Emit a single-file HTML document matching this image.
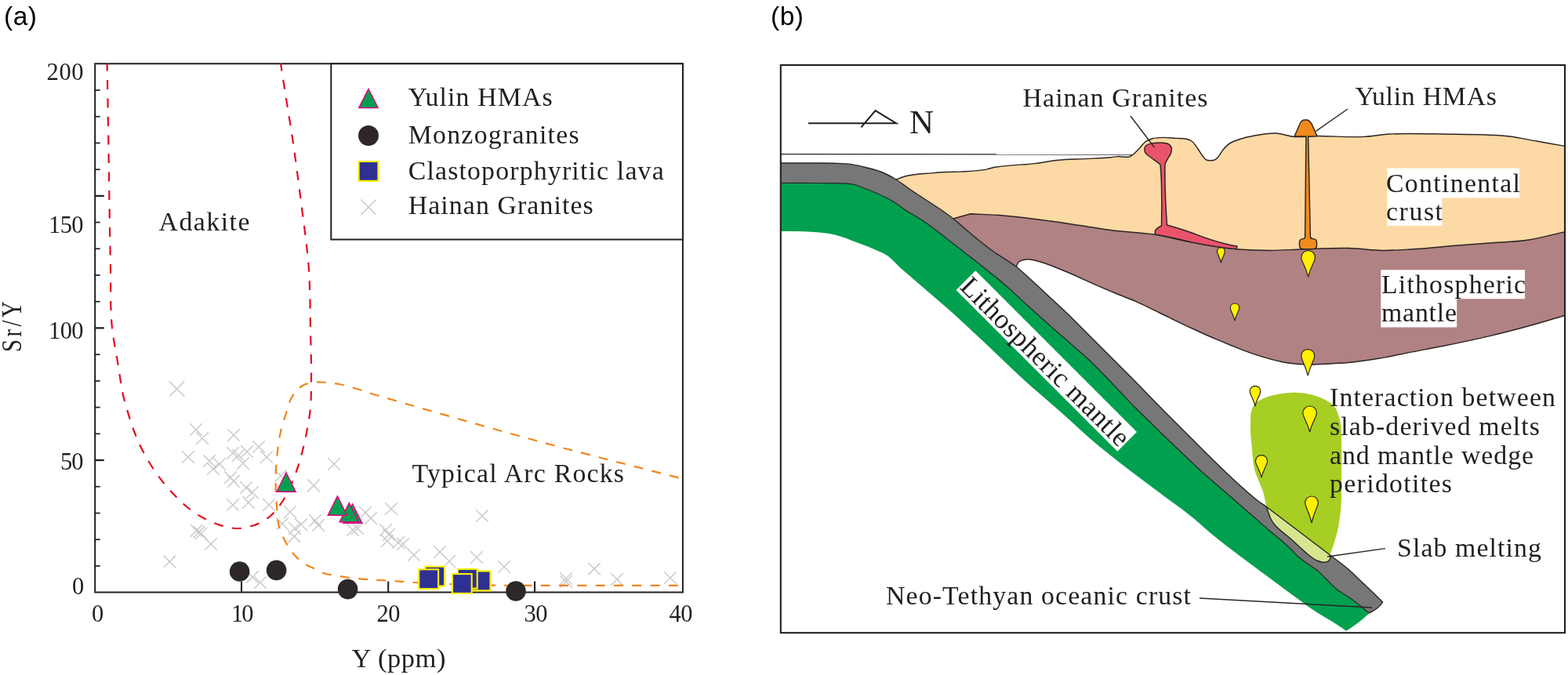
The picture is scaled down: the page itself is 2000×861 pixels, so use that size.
<!DOCTYPE html>
<html lang="en">
<head>
<meta charset="utf-8">
<title>Sr/Y vs Y diagram and tectonic model</title>
<style>
html,body{margin:0;padding:0;background:#fff;}
body{width:2000px;height:861px;overflow:hidden;}
svg{display:block;}
text{white-space:pre;}
</style>
</head>
<body>
<svg width="2000" height="861" viewBox="0 0 2000 861">
<rect x="0" y="0" width="2000" height="861" fill="#ffffff"/>
<g id="panel-a">
<g stroke="#cbcbcb" stroke-width="1.5" fill="none">
<path d="M216.0,486.4 l19.2,19.2 M235.2,486.4 l-19.2,19.2"/>
<path d="M242.2,540.2 l15.6,15.6 M257.8,540.2 l-15.6,15.6"/>
<path d="M250.2,551.2 l15.6,15.6 M265.8,551.2 l-15.6,15.6"/>
<path d="M290.2,547.2 l15.6,15.6 M305.8,547.2 l-15.6,15.6"/>
<path d="M232.2,575.2 l15.6,15.6 M247.8,575.2 l-15.6,15.6"/>
<path d="M322.2,562.2 l15.6,15.6 M337.8,562.2 l-15.6,15.6"/>
<path d="M307.2,568.2 l15.6,15.6 M322.8,568.2 l-15.6,15.6"/>
<path d="M289.2,570.2 l15.6,15.6 M304.8,570.2 l-15.6,15.6"/>
<path d="M296.2,573.2 l15.6,15.6 M311.8,573.2 l-15.6,15.6"/>
<path d="M332.2,575.2 l15.6,15.6 M347.8,575.2 l-15.6,15.6"/>
<path d="M259.2,580.2 l15.6,15.6 M274.8,580.2 l-15.6,15.6"/>
<path d="M272.2,584.2 l15.6,15.6 M287.8,584.2 l-15.6,15.6"/>
<path d="M302.2,583.2 l15.6,15.6 M317.8,583.2 l-15.6,15.6"/>
<path d="M264.2,590.2 l15.6,15.6 M279.8,590.2 l-15.6,15.6"/>
<path d="M286.2,601.2 l15.6,15.6 M301.8,601.2 l-15.6,15.6"/>
<path d="M290.2,606.2 l15.6,15.6 M305.8,606.2 l-15.6,15.6"/>
<path d="M306.2,614.2 l15.6,15.6 M321.8,614.2 l-15.6,15.6"/>
<path d="M314.2,620.2 l15.6,15.6 M329.8,620.2 l-15.6,15.6"/>
<path d="M350.2,599.2 l15.6,15.6 M365.8,599.2 l-15.6,15.6"/>
<path d="M289.2,636.2 l15.6,15.6 M304.8,636.2 l-15.6,15.6"/>
<path d="M309.2,633.2 l15.6,15.6 M324.8,633.2 l-15.6,15.6"/>
<path d="M335.2,636.2 l15.6,15.6 M350.8,636.2 l-15.6,15.6"/>
<path d="M362.2,645.2 l15.6,15.6 M377.8,645.2 l-15.6,15.6"/>
<path d="M242.7,669.0 l15.6,15.6 M258.3,669.0 l-15.6,15.6"/>
<path d="M246.2,670.8 l15.6,15.6 M261.8,670.8 l-15.6,15.6"/>
<path d="M248.7,672.7 l15.6,15.6 M264.3,672.7 l-15.6,15.6"/>
<path d="M376.2,661.2 l15.6,15.6 M391.8,661.2 l-15.6,15.6"/>
<path d="M352.2,660.2 l15.6,15.6 M367.8,660.2 l-15.6,15.6"/>
<path d="M368.2,666.2 l15.6,15.6 M383.8,666.2 l-15.6,15.6"/>
<path d="M208.6,708.6 l15.6,15.6 M224.2,708.6 l-15.6,15.6"/>
<path d="M261.2,686.2 l15.6,15.6 M276.8,686.2 l-15.6,15.6"/>
<path d="M314.2,728.2 l15.6,15.6 M329.8,728.2 l-15.6,15.6"/>
<path d="M324.2,735.2 l15.6,15.6 M339.8,735.2 l-15.6,15.6"/>
<path d="M367.5,676.5 l15.6,15.6 M383.1,676.5 l-15.6,15.6"/>
<path d="M418.2,584.2 l15.6,15.6 M433.8,584.2 l-15.6,15.6"/>
<path d="M392.2,611.5 l15.6,15.6 M407.8,611.5 l-15.6,15.6"/>
<path d="M491.2,641.2 l15.6,15.6 M506.8,641.2 l-15.6,15.6"/>
<path d="M607.2,650.2 l15.6,15.6 M622.8,650.2 l-15.6,15.6"/>
<path d="M458.2,646.2 l15.6,15.6 M473.8,646.2 l-15.6,15.6"/>
<path d="M465.2,653.2 l15.6,15.6 M480.8,653.2 l-15.6,15.6"/>
<path d="M448.2,666.2 l15.6,15.6 M463.8,666.2 l-15.6,15.6"/>
<path d="M442.2,668.2 l15.6,15.6 M457.8,668.2 l-15.6,15.6"/>
<path d="M484.2,668.2 l15.6,15.6 M499.8,668.2 l-15.6,15.6"/>
<path d="M398.2,662.2 l15.6,15.6 M413.8,662.2 l-15.6,15.6"/>
<path d="M394.2,656.2 l15.6,15.6 M409.8,656.2 l-15.6,15.6"/>
<path d="M488.2,674.2 l15.6,15.6 M503.8,674.2 l-15.6,15.6"/>
<path d="M520.2,700.2 l15.6,15.6 M535.8,700.2 l-15.6,15.6"/>
<path d="M553.2,696.2 l15.6,15.6 M568.8,696.2 l-15.6,15.6"/>
<path d="M565.2,708.2 l15.6,15.6 M580.8,708.2 l-15.6,15.6"/>
<path d="M600.2,703.2 l15.6,15.6 M615.8,703.2 l-15.6,15.6"/>
<path d="M635.2,715.2 l15.6,15.6 M650.8,715.2 l-15.6,15.6"/>
<path d="M714.2,730.2 l15.6,15.6 M729.8,730.2 l-15.6,15.6"/>
<path d="M714.2,734.2 l15.6,15.6 M729.8,734.2 l-15.6,15.6"/>
<path d="M750.2,717.8 l15.6,15.6 M765.8,717.8 l-15.6,15.6"/>
<path d="M779.2,731.2 l15.6,15.6 M794.8,731.2 l-15.6,15.6"/>
<path d="M486.2,682.2 l15.6,15.6 M501.8,682.2 l-15.6,15.6"/>
<path d="M500.2,684.2 l15.6,15.6 M515.8,684.2 l-15.6,15.6"/>
<path d="M506.2,686.2 l15.6,15.6 M521.8,686.2 l-15.6,15.6"/>
<path d="M847.2,729.2 l15.6,15.6 M862.8,729.2 l-15.6,15.6"/>
</g>
<g stroke="#231f1f" fill="none" stroke-linecap="butt">
<path d="M121.2,81.3 V755.6 H870.9 V81.3 Z" stroke-width="2"/>
<path d="M121.2,721.9 h6.5" stroke-width="1.7"/>
<path d="M121.2,688.2 h6.5" stroke-width="1.7"/>
<path d="M121.2,654.5 h6.5" stroke-width="1.7"/>
<path d="M121.2,620.7 h6.5" stroke-width="1.7"/>
<path d="M121.2,587.0 h11.5" stroke-width="2.3"/>
<path d="M121.2,553.3 h6.5" stroke-width="1.7"/>
<path d="M121.2,519.6 h6.5" stroke-width="1.7"/>
<path d="M121.2,485.9 h6.5" stroke-width="1.7"/>
<path d="M121.2,452.2 h6.5" stroke-width="1.7"/>
<path d="M121.2,418.4 h11.5" stroke-width="2.3"/>
<path d="M121.2,384.7 h6.5" stroke-width="1.7"/>
<path d="M121.2,351.0 h6.5" stroke-width="1.7"/>
<path d="M121.2,317.3 h6.5" stroke-width="1.7"/>
<path d="M121.2,283.6 h6.5" stroke-width="1.7"/>
<path d="M121.2,249.9 h11.5" stroke-width="2.3"/>
<path d="M121.2,216.2 h6.5" stroke-width="1.7"/>
<path d="M121.2,182.4 h6.5" stroke-width="1.7"/>
<path d="M121.2,148.7 h6.5" stroke-width="1.7"/>
<path d="M121.2,115.0 h6.5" stroke-width="1.7"/>
<path d="M308.0,755.6 v-14" stroke-width="2.1"/>
<path d="M495.2,755.6 v-14" stroke-width="2.1"/>
<path d="M682.0,755.6 v-14" stroke-width="2.1"/>
</g>
<path d="M136.6,81.0 C136.9,96.0 137.1,111.0 137.4,126.0 C137.7,141.3 137.9,156.7 138.2,172.0 C138.7,200.7 139.0,229.3 139.5,258.0 C140.0,286.7 140.4,315.3 141.0,344.0 C141.6,368.7 140.3,393.5 143.0,418.0 C144.7,433.4 147.8,448.7 150.4,464.0 C153.1,480.0 154.8,496.3 159.0,512.0 C160.1,515.9 161.2,519.7 162.4,523.6 C165.1,532.5 167.7,541.4 171.0,550.0 C174.0,557.8 177.2,565.5 181.0,573.0 C184.6,580.2 188.7,587.2 193.0,594.0 C197.6,601.3 202.6,608.3 208.0,615.0 C213.0,621.3 218.4,627.3 224.0,633.0 C229.1,638.2 234.3,643.5 240.0,648.0 C246.2,652.9 253.0,657.3 260.0,661.0 C266.4,664.4 273.1,667.5 280.0,669.6 C287.8,672.0 295.9,674.2 304.0,674.0 C310.8,673.8 317.6,672.3 324.0,670.0 C331.2,667.5 338.1,663.8 344.0,659.0 C350.4,653.8 355.4,646.9 360.0,640.0 C365.9,631.4 370.0,621.6 374.0,612.0 C378.0,602.3 381.1,592.1 384.0,582.0 C386.8,572.1 389.0,562.1 391.0,552.0 C392.8,542.7 394.6,533.4 395.6,524.0 C397.1,510.7 396.8,497.3 397.0,484.0 C397.3,462.7 396.4,441.3 396.0,420.0 C395.5,394.7 395.7,369.3 394.0,344.0 C392.0,315.2 387.6,286.6 384.0,258.0 C380.4,229.3 376.7,200.6 372.4,172.0 C370.1,156.6 367.4,141.3 365.0,126.0 C362.6,111.0 360.3,96.0 358.0,81.0" fill="none" stroke="#e40a22" stroke-width="2.2" stroke-dasharray="12 11.5" stroke-dashoffset="2.5"/>
<path d="M865.5,609.4 C810.3,595.1 755.0,581.4 700.0,566.5 C649.9,552.9 599.9,538.7 550.0,524.3 C525.0,517.1 500.0,509.9 475.0,502.5 C461.7,498.5 448.7,493.0 435.0,490.5 C426.7,489.0 418.4,487.6 410.0,487.5 C405.7,487.4 401.3,487.1 397.0,488.0 C392.8,488.8 388.6,490.3 385.0,492.5 C379.5,495.9 375.3,501.4 372.0,507.0 C369.0,512.2 367.9,518.3 366.0,524.0 C363.5,531.3 360.9,538.5 359.0,546.0 C357.2,553.2 356.1,560.6 355.0,568.0 C353.8,576.0 353.0,584.0 352.4,592.0 C351.8,600.0 351.6,608.0 351.6,616.0 C351.6,626.0 352.2,636.0 353.0,646.0 C353.6,654.0 353.6,662.2 355.6,670.0 C357.1,675.9 359.4,681.6 362.0,687.0 C365.3,693.7 369.2,700.3 374.0,706.0 C378.1,710.9 382.7,715.5 388.0,719.0 C391.7,721.5 396.0,723.0 400.0,725.0 C403.3,726.7 406.6,728.6 410.0,730.0 C419.4,733.9 429.9,734.4 440.0,736.0 C459.8,739.2 480.0,739.6 500.0,741.0 C510.0,741.7 520.0,742.4 530.0,743.0 C563.3,745.0 596.6,746.0 630.0,746.6 C653.3,747.0 676.7,746.8 700.0,746.8 C757.0,746.9 814.0,746.8 871.0,746.8" fill="none" stroke="#f08519" stroke-width="2.2" stroke-dasharray="12 11.3"/>
<path d="M365.0,603.0 L377.1,627.2 L352.9,627.2 Z" fill="#00a051" stroke="#e4007f" stroke-width="1.5" stroke-linejoin="miter"/>
<path d="M449.7,643.0 L461.8,667.2 L437.6,667.2 Z" fill="#00a051" stroke="#e4007f" stroke-width="1.5" stroke-linejoin="miter"/>
<path d="M445.3,641.6 L457.4,665.8 L433.2,665.8 Z" fill="#00a051" stroke="#e4007f" stroke-width="1.5" stroke-linejoin="miter"/>
<path d="M430.4,633.0 L442.5,657.2 L418.3,657.2 Z" fill="#00a051" stroke="#e4007f" stroke-width="1.5" stroke-linejoin="miter"/>
<circle cx="305.6" cy="729.0" r="12.8" fill="#2d2827"/>
<circle cx="352.6" cy="727.4" r="12.8" fill="#2d2827"/>
<circle cx="443.6" cy="751.6" r="12.8" fill="#2d2827"/>
<circle cx="658.0" cy="754.0" r="12.8" fill="#2d2827"/>
<rect x="542.3" y="722.7" width="24.8" height="24.8" fill="#2e3192" stroke="#fff100" stroke-width="2.1"/>
<rect x="534.3" y="726.3" width="24.8" height="24.8" fill="#2e3192" stroke="#fff100" stroke-width="2.1"/>
<rect x="600.7" y="728.5" width="24.8" height="24.8" fill="#2e3192" stroke="#fff100" stroke-width="2.1"/>
<rect x="583.9" y="725.9" width="24.8" height="24.8" fill="#2e3192" stroke="#fff100" stroke-width="2.1"/>
<rect x="576.9" y="732.1" width="24.8" height="24.8" fill="#2e3192" stroke="#fff100" stroke-width="2.1"/>
<rect x="422.3" y="81.3" width="448.6" height="224.2" fill="#fff" stroke="#231f1f" stroke-width="2"/>
<path d="M470.0,113.5 L482.2,137.5 L457.8,137.5 Z" fill="#00a051" stroke="#e4007f" stroke-width="1.5" stroke-linejoin="miter"/>
<circle cx="470" cy="173" r="13" fill="#2d2827"/>
<rect x="457.6" y="206.0" width="24.8" height="24.8" fill="#2e3192" stroke="#fff100" stroke-width="2.1"/>
<path d="M460.3,254.5 l19.4,19.4 M479.7,254.5 l-19.4,19.4" stroke="#cbcbcb" stroke-width="1.5" fill="none"/>
<text x="520.7" y="135.0" font-family="'Liberation Serif', serif" font-size="33.8" fill="#231f1f" text-anchor="start" textLength="184.0" lengthAdjust="spacing">Yulin HMAs</text>
<text x="520.7" y="182.5" font-family="'Liberation Serif', serif" font-size="33.8" fill="#231f1f" text-anchor="start" textLength="218.0" lengthAdjust="spacing">Monzogranites</text>
<text x="520.7" y="228.8" font-family="'Liberation Serif', serif" font-size="33.8" fill="#231f1f" text-anchor="start" textLength="326.0" lengthAdjust="spacing">Clastoporphyritic lava</text>
<text x="520.7" y="273.0" font-family="'Liberation Serif', serif" font-size="33.8" fill="#231f1f" text-anchor="start" textLength="236.0" lengthAdjust="spacing">Hainan Granites</text>
<text x="202.5" y="293.6" font-family="'Liberation Serif', serif" font-size="33.8" fill="#231f1f" text-anchor="start" textLength="116.0" lengthAdjust="spacing">Adakite</text>
<text x="525.5" y="615.0" font-family="'Liberation Serif', serif" font-size="33.8" fill="#231f1f" text-anchor="start" textLength="270.5" lengthAdjust="spacing">Typical Arc Rocks</text>
<text x="59.5" y="101.7" font-family="'Liberation Serif', serif" font-size="30.5" fill="#231f1f" text-anchor="start" textLength="47.0" lengthAdjust="spacing">200</text>
<text x="62.0" y="296.7" font-family="'Liberation Serif', serif" font-size="30.5" fill="#231f1f" text-anchor="start" textLength="44.5" lengthAdjust="spacing">150</text>
<text x="62.0" y="431.7" font-family="'Liberation Serif', serif" font-size="30.5" fill="#231f1f" text-anchor="start" textLength="44.5" lengthAdjust="spacing">100</text>
<text x="77.0" y="598.7" font-family="'Liberation Serif', serif" font-size="30.5" fill="#231f1f" text-anchor="start" textLength="29.5" lengthAdjust="spacing">50</text>
<text x="92.0" y="757.7" font-family="'Liberation Serif', serif" font-size="30.5" fill="#231f1f" text-anchor="start" textLength="13.5" lengthAdjust="spacing">0</text>
<text x="117.0" y="792.7" font-family="'Liberation Serif', serif" font-size="30.5" fill="#231f1f" text-anchor="start" textLength="13.5" lengthAdjust="spacing">0</text>
<text x="295.0" y="792.7" font-family="'Liberation Serif', serif" font-size="30.5" fill="#231f1f" text-anchor="start" textLength="28.5" lengthAdjust="spacing">10</text>
<text x="480.5" y="792.7" font-family="'Liberation Serif', serif" font-size="30.5" fill="#231f1f" text-anchor="start" textLength="30.0" lengthAdjust="spacing">20</text>
<text x="668.5" y="792.7" font-family="'Liberation Serif', serif" font-size="30.5" fill="#231f1f" text-anchor="start" textLength="30.0" lengthAdjust="spacing">30</text>
<text x="853.5" y="792.7" font-family="'Liberation Serif', serif" font-size="30.5" fill="#231f1f" text-anchor="start" textLength="30.0" lengthAdjust="spacing">40</text>
<text x="448.5" y="850.8" font-family="'Liberation Serif', serif" font-size="34.5" fill="#231f1f" text-anchor="start" textLength="120.0" lengthAdjust="spacing">Y (ppm)</text>
<g transform="translate(26.6,449) rotate(-90) scale(0.82,1)"><text x="0.0" y="0.0" font-family="'Liberation Serif', serif" font-size="35.0" fill="#231f1f" text-anchor="start" textLength="79.0" lengthAdjust="spacing">Sr/Y</text></g>
<text x="5" y="32" font-family="'Liberation Sans', sans-serif" font-size="33.5" letter-spacing="0.5" fill="#000">(a)</text>
</g>
<g id="panel-b">
<path d="M995.8,295.0 C1008.9,295.2 1022.0,294.7 1035.0,295.7 C1045.0,296.5 1055.2,297.2 1065.0,299.5 C1075.3,301.9 1085.1,306.3 1095.0,310.0 C1102.6,312.9 1110.1,315.7 1117.5,319.0 C1121.7,320.9 1126.0,322.6 1130.0,325.0 C1137.7,329.6 1143.3,337.1 1150.0,343.0 C1157.3,349.4 1164.7,355.7 1172.0,362.0 C1186.7,374.7 1201.6,387.1 1216.0,400.0 C1230.6,413.1 1244.7,426.6 1259.0,440.0 C1273.1,453.3 1286.8,466.9 1301.0,480.0 C1319.6,497.1 1339.2,513.1 1358.0,530.0 C1369.1,539.9 1379.7,550.3 1391.0,560.0 C1407.2,573.9 1424.1,587.0 1441.0,600.0 C1454.2,610.2 1467.7,620.0 1481.0,630.0 C1494.3,640.0 1508.1,649.4 1521.0,660.0 C1528.8,666.5 1536.2,673.5 1544.0,680.0 C1560.8,694.0 1578.5,706.9 1596.0,720.0 C1605.0,726.7 1614.0,733.3 1623.0,740.0 C1632.0,746.7 1640.9,753.4 1650.0,760.0 C1659.3,766.7 1668.4,773.7 1678.0,780.0 C1686.8,785.8 1696.2,790.7 1705.0,796.5 C1709.0,799.2 1713.0,802.0 1717.0,804.7 Q1733.5,795 1746.5,782 L1746.5,782.0 C1738.3,775.6 1730.4,768.8 1722.0,762.8 C1716.1,758.6 1709.5,755.4 1704.0,750.8 C1700.1,747.5 1696.6,743.6 1693.0,740.0 C1689.6,736.6 1686.5,733.0 1682.9,729.9 C1678.9,726.4 1674.3,723.6 1670.0,720.5 C1665.8,717.4 1661.3,714.7 1657.3,711.3 C1653.6,708.1 1650.4,704.2 1646.9,700.8 C1642.7,696.8 1638.4,692.8 1634.0,689.0 C1630.4,685.9 1626.6,683.0 1623.0,680.0 C1615.2,673.5 1607.7,666.7 1600.0,660.0 C1592.3,653.3 1584.7,646.7 1577.0,640.0 C1569.3,633.3 1561.7,626.7 1554.0,620.0 C1546.3,613.3 1538.5,606.8 1531.0,600.0 C1523.9,593.5 1517.0,586.7 1510.0,580.0 C1503.0,573.3 1496.0,566.7 1489.0,560.0 C1482.1,553.4 1475.3,546.7 1468.5,540.0 C1461.7,533.3 1454.7,526.8 1448.0,520.0 C1441.5,513.5 1435.3,506.7 1429.0,500.0 C1422.7,493.3 1416.4,486.6 1410.0,480.0 C1403.4,473.2 1396.9,466.5 1390.0,460.0 C1382.7,453.1 1375.0,446.6 1367.5,440.0 C1359.9,433.3 1352.1,426.7 1344.5,420.0 C1333.2,410.1 1322.1,400.0 1311.0,390.0 C1300.0,380.0 1289.3,369.6 1278.0,360.0 C1269.5,352.8 1260.7,345.9 1252.0,339.0 C1243.7,332.4 1235.3,326.0 1227.0,319.5 C1218.7,313.0 1210.4,306.4 1202.0,300.0 C1193.6,293.6 1185.3,286.9 1176.5,281.0 C1169.5,276.4 1162.0,272.6 1155.0,268.0 C1149.9,264.6 1145.2,260.7 1140.0,257.5 C1130.6,251.7 1120.3,247.2 1110.0,243.0 C1102.6,240.0 1095.3,236.5 1087.5,235.0 C1080.1,233.5 1072.5,234.0 1065.0,233.7 C1056.7,233.4 1048.3,233.5 1040.0,233.5 C1025.3,233.4 1010.5,233.5 995.8,233.5 Z" fill="#00a04f"/>
<path d="M1143.0,229.0 C1145.9,227.9 1151.0,225.9 1154.0,225.0 C1163.3,222.2 1180.4,221.6 1190.0,220.6 C1208.6,218.6 1241.8,220.1 1260.0,215.6 C1261.6,215.2 1264.4,214.4 1266.0,214.0 C1280.0,210.5 1305.6,210.4 1320.0,208.6 C1328.0,207.6 1342.0,205.1 1350.0,204.3 C1358.8,203.4 1374.2,203.1 1383.0,202.6 C1391.9,202.1 1407.5,201.8 1416.4,200.8 C1418.8,200.5 1423.1,199.8 1425.5,199.6 C1429.5,199.3 1436.9,201.4 1440.6,199.8 C1441.7,199.3 1443.5,198.3 1444.5,197.6 C1447.0,196.0 1450.6,192.0 1452.7,189.9 C1455.2,187.4 1458.7,182.2 1461.7,180.3 C1463.7,179.0 1467.7,177.5 1470.0,176.8 C1473.6,175.8 1480.2,175.5 1484.0,175.4 C1488.3,175.3 1495.7,176.2 1500.0,176.4 C1503.2,176.6 1508.9,176.3 1512.0,177.0 C1514.2,177.5 1518.1,178.8 1520.0,180.0 C1522.9,181.9 1526.0,187.2 1528.0,190.0 C1529.7,192.3 1532.2,196.7 1534.0,199.0 C1535.0,200.3 1536.6,202.7 1538.0,203.6 C1540.7,205.3 1547.2,205.2 1550.0,203.6 C1551.3,202.9 1553.0,201.0 1554.0,200.0 C1556.0,197.9 1558.1,193.2 1560.0,191.0 C1562.3,188.3 1566.9,183.8 1570.0,182.0 C1572.5,180.5 1577.3,178.9 1580.0,178.0 C1585.2,176.2 1594.6,174.0 1600.0,173.0 C1607.4,171.6 1620.5,169.5 1628.0,170.0 C1634.0,170.4 1644.0,173.8 1650.0,174.4 C1658.0,175.2 1672.0,173.7 1680.0,173.6 C1696.0,173.4 1724.0,175.4 1740.0,174.4 C1748.6,173.8 1763.4,171.6 1772.0,171.0 C1790.1,169.7 1821.9,170.7 1840.0,171.0 C1862.9,171.4 1903.3,170.9 1926.0,174.0 C1935.1,175.2 1950.9,178.4 1960.0,180.0 C1969.6,181.7 1986.4,184.7 1996.0,186.4 L1996.0,330 L1300,330 L1205,282 L1135,232 Z" fill="#fcd9a5"/>
<path d="M1215,279.2 L1238,272.8 L1238.0,272.8 C1252.0,273.5 1266.0,273.9 1280.0,275.0 C1300.1,276.6 1320.0,279.3 1340.0,282.0 C1353.4,283.8 1366.7,286.0 1380.0,288.0 C1393.3,290.0 1406.6,292.3 1420.0,294.0 C1437.3,296.2 1454.8,296.4 1472.0,299.0 C1488.2,301.5 1503.9,306.1 1520.0,309.0 C1539.9,312.6 1559.8,316.4 1580.0,318.0 C1593.3,319.1 1606.7,319.4 1620.0,319.4 C1633.3,319.4 1646.7,318.4 1660.0,318.0 C1680.0,317.4 1700.0,316.0 1720.0,316.5 C1735.4,316.9 1750.6,319.4 1766.0,319.4 C1777.3,319.4 1788.7,318.6 1800.0,318.0 C1820.0,316.9 1840.0,314.6 1860.0,313.0 C1873.3,312.0 1886.7,311.0 1900.0,310.0 C1916.7,308.7 1933.5,308.6 1950.0,306.0 C1965.5,303.6 1980.7,299.1 1996.0,295.6 L1996.0,402 L1996.0,402.5 C1977.3,407.8 1958.8,413.5 1940.0,418.5 C1926.7,422.0 1913.4,425.4 1900.0,428.6 C1880.1,433.3 1860.1,437.5 1840.0,441.5 C1826.7,444.2 1813.3,446.5 1800.0,449.1 C1786.7,451.7 1773.4,454.8 1760.0,457.0 C1746.7,459.2 1733.4,461.4 1720.0,462.5 C1713.3,463.1 1706.7,463.3 1700.0,463.7 C1690.0,464.2 1680.0,465.2 1670.0,465.0 C1660.0,464.8 1649.9,464.1 1640.0,462.5 C1626.4,460.3 1613.1,456.2 1600.0,451.9 C1589.8,448.6 1579.9,444.5 1570.0,440.5 C1563.3,437.8 1556.6,435.0 1550.0,432.2 C1541.6,428.6 1533.3,424.8 1525.0,421.0 C1516.6,417.2 1508.3,413.3 1500.0,409.3 C1493.3,406.1 1486.7,402.7 1480.0,399.5 C1470.0,394.7 1460.2,389.5 1450.0,385.1 C1441.8,381.5 1433.3,378.4 1425.0,375.0 C1416.6,371.5 1408.3,368.0 1400.0,364.4 C1384.9,357.9 1370.2,350.5 1355.0,344.5 C1345.1,340.6 1335.4,336.0 1325.0,333.5 C1320.1,332.3 1315.1,330.3 1310.0,330.8 C1306.4,331.2 1302.1,331.4 1299.5,334.0 C1297.6,335.8 1297.2,338.7 1296.0,341.0 L1285,345 L1205,282 Z" fill="#b08283"/>
<path d="M1996.0,402.5 C1977.3,407.8 1958.8,413.5 1940.0,418.5 C1926.7,422.0 1913.4,425.4 1900.0,428.6 C1880.1,433.3 1860.1,437.5 1840.0,441.5 C1826.7,444.2 1813.3,446.5 1800.0,449.1 C1786.7,451.7 1773.4,454.8 1760.0,457.0 C1746.7,459.2 1733.4,461.4 1720.0,462.5 C1713.3,463.1 1706.7,463.3 1700.0,463.7 C1690.0,464.2 1680.0,465.2 1670.0,465.0 C1660.0,464.8 1649.9,464.1 1640.0,462.5 C1626.4,460.3 1613.1,456.2 1600.0,451.9 C1589.8,448.6 1579.9,444.5 1570.0,440.5 C1563.3,437.8 1556.6,435.0 1550.0,432.2 C1541.6,428.6 1533.3,424.8 1525.0,421.0 C1516.6,417.2 1508.3,413.3 1500.0,409.3 C1493.3,406.1 1486.7,402.7 1480.0,399.5 C1470.0,394.7 1460.2,389.5 1450.0,385.1 C1441.8,381.5 1433.3,378.4 1425.0,375.0 C1416.6,371.5 1408.3,368.0 1400.0,364.4 C1384.9,357.9 1370.2,350.5 1355.0,344.5 C1345.1,340.6 1335.4,336.0 1325.0,333.5 C1320.1,332.3 1315.1,330.3 1310.0,330.8 C1306.4,331.2 1302.1,331.4 1299.5,334.0 C1297.6,335.8 1297.2,338.7 1296.0,341.0" fill="none" stroke="#2a2422" stroke-width="1.45"/>
<path d="M1143.0,229.0 C1145.9,227.9 1151.0,225.9 1154.0,225.0 C1163.3,222.2 1180.4,221.6 1190.0,220.6 C1208.6,218.6 1241.8,220.1 1260.0,215.6 C1261.6,215.2 1264.4,214.4 1266.0,214.0 C1280.0,210.5 1305.6,210.4 1320.0,208.6 C1328.0,207.6 1342.0,205.1 1350.0,204.3 C1358.8,203.4 1374.2,203.1 1383.0,202.6 C1391.9,202.1 1407.5,201.8 1416.4,200.8 C1418.8,200.5 1423.1,199.8 1425.5,199.6 C1429.5,199.3 1436.9,201.4 1440.6,199.8 C1441.7,199.3 1443.5,198.3 1444.5,197.6 C1447.0,196.0 1450.6,192.0 1452.7,189.9 C1455.2,187.4 1458.7,182.2 1461.7,180.3 C1463.7,179.0 1467.7,177.5 1470.0,176.8 C1473.6,175.8 1480.2,175.5 1484.0,175.4 C1488.3,175.3 1495.7,176.2 1500.0,176.4 C1503.2,176.6 1508.9,176.3 1512.0,177.0 C1514.2,177.5 1518.1,178.8 1520.0,180.0 C1522.9,181.9 1526.0,187.2 1528.0,190.0 C1529.7,192.3 1532.2,196.7 1534.0,199.0 C1535.0,200.3 1536.6,202.7 1538.0,203.6 C1540.7,205.3 1547.2,205.2 1550.0,203.6 C1551.3,202.9 1553.0,201.0 1554.0,200.0 C1556.0,197.9 1558.1,193.2 1560.0,191.0 C1562.3,188.3 1566.9,183.8 1570.0,182.0 C1572.5,180.5 1577.3,178.9 1580.0,178.0 C1585.2,176.2 1594.6,174.0 1600.0,173.0 C1607.4,171.6 1620.5,169.5 1628.0,170.0 C1634.0,170.4 1644.0,173.8 1650.0,174.4 C1658.0,175.2 1672.0,173.7 1680.0,173.6 C1696.0,173.4 1724.0,175.4 1740.0,174.4 C1748.6,173.8 1763.4,171.6 1772.0,171.0 C1790.1,169.7 1821.9,170.7 1840.0,171.0 C1862.9,171.4 1903.3,170.9 1926.0,174.0 C1935.1,175.2 1950.9,178.4 1960.0,180.0 C1969.6,181.7 1986.4,184.7 1996.0,186.4" fill="none" stroke="#2a2422" stroke-width="1.45" stroke-linejoin="round"/>
<path d="M1215,279.2 L1238,272.8 L1238.0,272.8 C1252.0,273.5 1266.0,273.9 1280.0,275.0 C1300.1,276.6 1320.0,279.3 1340.0,282.0 C1353.4,283.8 1366.7,286.0 1380.0,288.0 C1393.3,290.0 1406.6,292.3 1420.0,294.0 C1437.3,296.2 1454.8,296.4 1472.0,299.0 C1488.2,301.5 1503.9,306.1 1520.0,309.0 C1539.9,312.6 1559.8,316.4 1580.0,318.0 C1593.3,319.1 1606.7,319.4 1620.0,319.4 C1633.3,319.4 1646.7,318.4 1660.0,318.0 C1680.0,317.4 1700.0,316.0 1720.0,316.5 C1735.4,316.9 1750.6,319.4 1766.0,319.4 C1777.3,319.4 1788.7,318.6 1800.0,318.0 C1820.0,316.9 1840.0,314.6 1860.0,313.0 C1873.3,312.0 1886.7,311.0 1900.0,310.0 C1916.7,308.7 1933.5,308.6 1950.0,306.0 C1965.5,303.6 1980.7,299.1 1996.0,295.6" fill="none" stroke="#2a2422" stroke-width="1.45" stroke-linejoin="round"/>
<path d="M995.8,208.0 C1010.5,208.0 1025.3,207.9 1040.0,208.0 C1048.0,208.0 1056.0,207.9 1064.0,208.2 C1071.3,208.5 1078.7,208.6 1086.0,209.6 C1092.8,210.6 1099.4,212.3 1106.0,214.0 C1112.7,215.7 1119.6,217.3 1126.0,220.0 C1131.9,222.5 1137.5,225.7 1143.0,229.0 C1148.9,232.6 1154.3,237.0 1160.0,241.0 C1178.5,253.9 1198.4,265.0 1216.0,279.0 C1224.4,285.7 1232.2,293.2 1240.5,300.0 C1248.4,306.5 1256.3,313.0 1264.5,319.0 C1274.7,326.5 1286.1,332.2 1296.0,340.0 C1303.9,346.2 1311.1,353.2 1318.5,360.0 C1325.7,366.6 1332.8,373.3 1340.0,380.0 C1347.2,386.7 1354.5,393.2 1361.5,400.0 C1368.3,406.5 1374.8,413.3 1381.5,420.0 C1394.8,433.3 1408.2,446.7 1421.5,460.0 C1428.2,466.7 1434.9,473.3 1441.5,480.0 C1454.6,493.2 1467.4,506.7 1480.5,520.0 C1493.7,533.4 1507.2,546.7 1520.5,560.0 C1527.2,566.7 1533.8,573.4 1540.5,580.0 C1547.3,586.7 1554.1,593.4 1561.0,600.0 C1568.1,606.8 1575.2,613.5 1582.5,620.0 C1590.2,626.8 1597.7,634.0 1606.0,640.0 C1609.1,642.3 1612.4,644.3 1615.5,646.5 C1627.3,654.7 1638.5,663.8 1650.0,672.5 C1665.5,684.3 1681.1,696.0 1696.5,708.0 C1705.0,714.6 1714.0,720.8 1722.0,728.0 C1726.3,731.9 1730.3,736.0 1734.5,740.0 C1741.5,746.7 1748.6,753.2 1755.5,760.0 C1758.2,762.7 1760.9,765.3 1763.6,768.0 Q1759,776 1746.5,782 L1746.5,782.0 C1738.3,775.6 1730.4,768.8 1722.0,762.8 C1716.1,758.6 1709.5,755.4 1704.0,750.8 C1700.1,747.5 1696.6,743.6 1693.0,740.0 C1689.6,736.6 1686.5,733.0 1682.9,729.9 C1678.9,726.4 1674.3,723.6 1670.0,720.5 C1665.8,717.4 1661.3,714.7 1657.3,711.3 C1653.6,708.1 1650.4,704.2 1646.9,700.8 C1642.7,696.8 1638.4,692.8 1634.0,689.0 C1630.4,685.9 1626.6,683.0 1623.0,680.0 C1615.2,673.5 1607.7,666.7 1600.0,660.0 C1592.3,653.3 1584.7,646.7 1577.0,640.0 C1569.3,633.3 1561.7,626.7 1554.0,620.0 C1546.3,613.3 1538.5,606.8 1531.0,600.0 C1523.9,593.5 1517.0,586.7 1510.0,580.0 C1503.0,573.3 1496.0,566.7 1489.0,560.0 C1482.1,553.4 1475.3,546.7 1468.5,540.0 C1461.7,533.3 1454.7,526.8 1448.0,520.0 C1441.5,513.5 1435.3,506.7 1429.0,500.0 C1422.7,493.3 1416.4,486.6 1410.0,480.0 C1403.4,473.2 1396.9,466.5 1390.0,460.0 C1382.7,453.1 1375.0,446.6 1367.5,440.0 C1359.9,433.3 1352.1,426.7 1344.5,420.0 C1333.2,410.1 1322.1,400.0 1311.0,390.0 C1300.0,380.0 1289.3,369.6 1278.0,360.0 C1269.5,352.8 1260.7,345.9 1252.0,339.0 C1243.7,332.4 1235.3,326.0 1227.0,319.5 C1218.7,313.0 1210.4,306.4 1202.0,300.0 C1193.6,293.6 1185.3,286.9 1176.5,281.0 C1169.5,276.4 1162.0,272.6 1155.0,268.0 C1149.9,264.6 1145.2,260.7 1140.0,257.5 C1130.6,251.7 1120.3,247.2 1110.0,243.0 C1102.6,240.0 1095.3,236.5 1087.5,235.0 C1080.1,233.5 1072.5,234.0 1065.0,233.7 C1056.7,233.4 1048.3,233.5 1040.0,233.5 C1025.3,233.4 1010.5,233.5 995.8,233.5 Z" fill="#777777"/>
<path d="M995.8,208.0 C1010.5,208.0 1025.3,207.9 1040.0,208.0 C1048.0,208.0 1056.0,207.9 1064.0,208.2 C1071.3,208.5 1078.7,208.6 1086.0,209.6 C1092.8,210.6 1099.4,212.3 1106.0,214.0 C1112.7,215.7 1119.6,217.3 1126.0,220.0 C1131.9,222.5 1137.5,225.7 1143.0,229.0 C1148.9,232.6 1154.3,237.0 1160.0,241.0 C1178.5,253.9 1198.4,265.0 1216.0,279.0 C1224.4,285.7 1232.2,293.2 1240.5,300.0 C1248.4,306.5 1256.3,313.0 1264.5,319.0 C1274.7,326.5 1286.1,332.2 1296.0,340.0 C1303.9,346.2 1311.1,353.2 1318.5,360.0 C1325.7,366.6 1332.8,373.3 1340.0,380.0 C1347.2,386.7 1354.5,393.2 1361.5,400.0 C1368.3,406.5 1374.8,413.3 1381.5,420.0 C1394.8,433.3 1408.2,446.7 1421.5,460.0 C1428.2,466.7 1434.9,473.3 1441.5,480.0 C1454.6,493.2 1467.4,506.7 1480.5,520.0 C1493.7,533.4 1507.2,546.7 1520.5,560.0 C1527.2,566.7 1533.8,573.4 1540.5,580.0 C1547.3,586.7 1554.1,593.4 1561.0,600.0 C1568.1,606.8 1575.2,613.5 1582.5,620.0 C1590.2,626.8 1597.7,634.0 1606.0,640.0 C1609.1,642.3 1612.4,644.3 1615.5,646.5 C1627.3,654.7 1638.5,663.8 1650.0,672.5 C1665.5,684.3 1681.1,696.0 1696.5,708.0 C1705.0,714.6 1714.0,720.8 1722.0,728.0 C1726.3,731.9 1730.3,736.0 1734.5,740.0 C1741.5,746.7 1748.6,753.2 1755.5,760.0 C1758.2,762.7 1760.9,765.3 1763.6,768.0 Q1759,776 1746.5,782" fill="none" stroke="#2a2422" stroke-width="1.45" stroke-linejoin="round"/>
<path d="M995.8,233.5 C1010.5,233.5 1025.3,233.4 1040.0,233.5 C1048.3,233.5 1056.7,233.4 1065.0,233.7 C1072.5,234.0 1080.1,233.5 1087.5,235.0 C1095.3,236.5 1102.6,240.0 1110.0,243.0 C1120.3,247.2 1130.6,251.7 1140.0,257.5 C1145.2,260.7 1149.9,264.6 1155.0,268.0 C1162.0,272.6 1169.5,276.4 1176.5,281.0 C1185.3,286.9 1193.6,293.6 1202.0,300.0 C1210.4,306.4 1218.7,313.0 1227.0,319.5 C1235.3,326.0 1243.7,332.4 1252.0,339.0 C1260.7,345.9 1269.5,352.8 1278.0,360.0 C1289.3,369.6 1300.0,380.0 1311.0,390.0 C1322.1,400.0 1333.2,410.1 1344.5,420.0 C1352.1,426.7 1359.9,433.3 1367.5,440.0 C1375.0,446.6 1382.7,453.1 1390.0,460.0 C1396.9,466.5 1403.4,473.2 1410.0,480.0 C1416.4,486.6 1422.7,493.3 1429.0,500.0 C1435.3,506.7 1441.5,513.5 1448.0,520.0 C1454.7,526.8 1461.7,533.3 1468.5,540.0 C1475.3,546.7 1482.1,553.4 1489.0,560.0 C1496.0,566.7 1503.0,573.3 1510.0,580.0 C1517.0,586.7 1523.9,593.5 1531.0,600.0 C1538.5,606.8 1546.3,613.3 1554.0,620.0 C1561.7,626.7 1569.3,633.3 1577.0,640.0 C1584.7,646.7 1592.3,653.3 1600.0,660.0 C1607.7,666.7 1615.2,673.5 1623.0,680.0 C1626.6,683.0 1630.4,685.9 1634.0,689.0 C1638.4,692.8 1642.7,696.8 1646.9,700.8 C1650.4,704.2 1653.6,708.1 1657.3,711.3 C1661.3,714.7 1665.8,717.4 1670.0,720.5 C1674.3,723.6 1678.9,726.4 1682.9,729.9 C1686.5,733.0 1689.6,736.6 1693.0,740.0 C1696.6,743.6 1700.1,747.5 1704.0,750.8 C1709.5,755.4 1716.1,758.6 1722.0,762.8 C1730.4,768.8 1738.3,775.6 1746.5,782.0" fill="none" stroke="#2a2422" stroke-width="1.2" stroke-linejoin="round"/>
<path d="M995,196.6 L1444.5,197" stroke="#2a2422" stroke-width="1.4" fill="none"/>
<path d="M1470,182.6 C1477,181.6 1484,181.8 1488.8,183 C1492.5,184.5 1494.6,188 1494.3,191.5 C1494,195.5 1492,199 1490,201.5 C1488.5,204.5 1486.5,207 1486,210 C1485.6,230 1486.6,260 1488.5,287 C1497,289.5 1510,293 1523.6,298.3 C1540,304.5 1560,311.5 1578,314 L1577,317.6 C1560,317 1540,313 1520,309 C1500,304 1485,301 1474,299 C1472,296 1473,292 1481.5,288 C1482,260 1482,230 1480,210 C1476,206 1471,203.5 1467.5,200.5 C1463.5,198 1460.5,196 1460,192.5 C1459.8,189.5 1460,187.5 1461.3,186.3 C1463.5,184.2 1466.5,183.2 1470,182.6 Z" fill="#e9546b" stroke="#2a2422" stroke-width="1.45" stroke-linejoin="round"/>
<path d="M1651,174 L1658,158 C1660,154 1662,153 1664,153 L1667,153 C1669,153 1671,155 1673,158 L1680,173.6 L1668.6,174 L1671.4,302.5 Q1671.8,304.4 1675,304.6 C1677.8,304.8 1679.5,306.5 1679.5,309 L1679.5,313.3 C1679.5,316 1677.5,317.6 1675,317.6 L1662,317.6 C1659.5,317.6 1657.5,316 1657.5,313.3 L1657.5,309 C1657.5,306.5 1659.2,304.8 1662,304.6 Q1664.4,304.4 1664.6,302.5 L1665.9,174 Z" fill="#f08a1d" stroke="#2a2422" stroke-width="1.45" stroke-linejoin="round"/>
<path d="M1615.5,646.5 C1614.0,640.0 1612.9,633.4 1611.0,627.0 C1608.3,617.7 1602.9,609.3 1600.5,600.0 C1597.8,589.4 1597.5,578.4 1596.5,567.5 C1595.8,560.0 1594.7,552.5 1595.0,545.0 C1595.5,534.8 1593.7,522.2 1601.0,515.0 C1603.0,513.0 1605.5,511.4 1608.0,510.0 C1611.0,508.3 1614.3,507.1 1617.5,506.0 C1622.2,504.4 1627.1,503.4 1632.0,502.5 C1637.1,501.6 1642.3,500.9 1647.5,500.7 C1653.7,500.5 1659.9,500.9 1666.0,502.0 C1672.5,503.1 1679.0,504.8 1685.0,507.5 C1690.9,510.2 1697.3,513.0 1701.5,518.0 C1705.2,522.5 1706.8,528.4 1708.5,534.0 C1712.1,545.5 1710.6,558.0 1711.0,570.0 C1711.5,583.3 1711.1,596.7 1711.0,610.0 C1710.9,621.7 1711.4,633.4 1710.5,645.0 C1709.7,655.1 1708.7,665.1 1706.5,675.0 C1704.8,682.6 1702.4,690.1 1700.0,697.5 C1698.9,701.0 1697.7,704.5 1696.5,708.0 Z" fill="#a6ce23"/>
<path d="M1615.5,646.5 L1696.5,708 L1696.5,708.0 C1696.6,709.2 1697.0,710.3 1696.8,711.5 C1696.6,712.8 1696.1,714.0 1695.2,715.0 C1694.2,716.2 1692.5,716.7 1691.0,717.1 C1689.4,717.5 1687.6,717.2 1686.0,717.0 C1683.7,716.7 1681.5,715.7 1679.4,714.8 C1675.1,712.9 1671.5,709.6 1667.8,706.7 C1663.7,703.5 1660.0,699.7 1656.1,696.2 C1652.2,692.7 1648.5,689.1 1644.5,685.7 C1640.4,682.1 1635.8,679.0 1631.8,675.3 C1629.8,673.4 1627.7,671.6 1626.0,669.5 C1624.2,667.3 1622.6,665.0 1621.3,662.5 C1619.7,659.5 1618.6,656.2 1617.5,653.0 C1616.8,650.9 1616.2,648.7 1615.5,646.5 Z" fill="#d6e68f" stroke="#2a2422" stroke-width="1.45" stroke-linejoin="round"/>
<path d="M1557.4,316.0 C1560.4,316.0 1562.4,318.2 1562.4,321.0 C1562.4,324.0 1559.2,327.4 1557.4,335.0 C1555.7,327.4 1552.4,324.0 1552.4,321.0 C1552.4,318.2 1554.4,316.0 1557.4,316.0 Z" fill="#ffef00" stroke="#2a2422" stroke-width="1.2" stroke-linejoin="miter"/>
<path d="M1668.6,319.6 C1673.9,319.6 1677.4,323.6 1677.4,328.4 C1677.4,333.7 1671.7,339.7 1668.6,353.1 C1665.5,339.7 1659.8,333.7 1659.8,328.4 C1659.8,323.6 1663.3,319.6 1668.6,319.6 Z" fill="#ffef00" stroke="#2a2422" stroke-width="1.2" stroke-linejoin="miter"/>
<path d="M1575.0,387.0 C1578.5,387.0 1580.8,389.6 1580.8,392.8 C1580.8,396.3 1577.0,400.2 1575.0,409.0 C1573.0,400.2 1569.2,396.3 1569.2,392.8 C1569.2,389.6 1571.5,387.0 1575.0,387.0 Z" fill="#ffef00" stroke="#2a2422" stroke-width="1.2" stroke-linejoin="miter"/>
<path d="M1668.2,445.6 C1673.3,445.6 1676.7,449.4 1676.7,454.1 C1676.7,459.2 1671.2,465.7 1668.2,479.1 C1665.2,465.7 1659.7,459.2 1659.7,454.1 C1659.7,449.4 1663.1,445.6 1668.2,445.6 Z" fill="#ffef00" stroke="#2a2422" stroke-width="1.2" stroke-linejoin="miter"/>
<path d="M1601.0,492.4 C1605.1,492.4 1607.8,495.5 1607.8,499.2 C1607.8,503.3 1603.4,507.8 1601.0,518.0 C1598.6,507.8 1594.2,503.3 1594.2,499.2 C1594.2,495.5 1596.9,492.4 1601.0,492.4 Z" fill="#ffef00" stroke="#2a2422" stroke-width="1.2" stroke-linejoin="miter"/>
<path d="M1670.6,518.0 C1675.9,518.0 1679.4,522.0 1679.4,526.8 C1679.4,532.1 1673.7,537.8 1670.6,551.0 C1667.5,537.8 1661.8,532.1 1661.8,526.8 C1661.8,522.0 1665.3,518.0 1670.6,518.0 Z" fill="#ffef00" stroke="#2a2422" stroke-width="1.2" stroke-linejoin="miter"/>
<path d="M1609.0,580.6 C1613.6,580.6 1616.6,584.0 1616.6,588.2 C1616.6,592.8 1611.7,597.6 1609.0,609.0 C1606.3,597.6 1601.4,592.8 1601.4,588.2 C1601.4,584.0 1604.4,580.6 1609.0,580.6 Z" fill="#ffef00" stroke="#2a2422" stroke-width="1.2" stroke-linejoin="miter"/>
<path d="M1673.0,633.0 C1678.0,633.0 1681.3,636.7 1681.3,641.3 C1681.3,646.3 1675.9,653.4 1673.0,667.0 C1670.1,653.4 1664.7,646.3 1664.7,641.3 C1664.7,636.7 1668.0,633.0 1673.0,633.0 Z" fill="#ffef00" stroke="#2a2422" stroke-width="1.2" stroke-linejoin="miter"/>
<path d="M1031,157.2 H1143 L1116.6,141 L1098.4,162.4" fill="none" stroke="#231f1f" stroke-width="2.1" stroke-linejoin="miter"/>
<text x="1160.0" y="170.0" font-family="'Liberation Serif', serif" font-size="43.0" fill="#231f1f" text-anchor="start">N</text>
<path d="M1442,148 L1472.4,188 M1719,139 L1678.4,167.4 M1767,699.6 L1693,710 M1530,763 L1750,775" fill="none" stroke="#2a2422" stroke-width="1.4"/>
<text x="1304.5" y="135.6" font-family="'Liberation Serif', serif" font-size="33.8" fill="#231f1f" text-anchor="start" textLength="236.0" lengthAdjust="spacing">Hainan Granites</text>
<text x="1728.5" y="133.5" font-family="'Liberation Serif', serif" font-size="33.8" fill="#231f1f" text-anchor="start" textLength="180.5" lengthAdjust="spacing">Yulin HMAs</text>
<path d="M1769.3,214.6 H1938 V252.5 H1839.4 V288 H1769.3 Z" fill="#fff"/>
<text x="1768.0" y="245.0" font-family="'Liberation Serif', serif" font-size="33.8" fill="#231f1f" text-anchor="start" textLength="171.0" lengthAdjust="spacing">Continental</text>
<text x="1768.0" y="281.0" font-family="'Liberation Serif', serif" font-size="33.8" fill="#231f1f" text-anchor="start" textLength="72.0" lengthAdjust="spacing">crust</text>
<path d="M1761.3,344.3 H1945 V381.2 H1858.2 V417.4 H1761.3 Z" fill="#fff"/>
<text x="1762.0" y="373.6" font-family="'Liberation Serif', serif" font-size="33.8" fill="#231f1f" text-anchor="start" textLength="184.0" lengthAdjust="spacing">Lithospheric</text>
<text x="1762.0" y="410.0" font-family="'Liberation Serif', serif" font-size="33.8" fill="#231f1f" text-anchor="start" textLength="96.0" lengthAdjust="spacing">mantle</text>
<text x="1696.0" y="518.0" font-family="'Liberation Serif', serif" font-size="33.8" fill="#231f1f" text-anchor="start" textLength="288.0" lengthAdjust="spacing">Interaction between</text>
<text x="1696.0" y="555.0" font-family="'Liberation Serif', serif" font-size="33.8" fill="#231f1f" text-anchor="start" textLength="268.0" lengthAdjust="spacing">slab-derived melts</text>
<text x="1696.0" y="591.6" font-family="'Liberation Serif', serif" font-size="33.8" fill="#231f1f" text-anchor="start" textLength="260.0" lengthAdjust="spacing">and mantle wedge</text>
<text x="1696.0" y="628.0" font-family="'Liberation Serif', serif" font-size="33.8" fill="#231f1f" text-anchor="start" textLength="156.0" lengthAdjust="spacing">peridotites</text>
<text x="1782.0" y="710.4" font-family="'Liberation Serif', serif" font-size="33.8" fill="#231f1f" text-anchor="start" textLength="184.0" lengthAdjust="spacing">Slab melting</text>
<text x="1130.0" y="770.5" font-family="'Liberation Serif', serif" font-size="33.8" fill="#231f1f" text-anchor="start" textLength="389.0" lengthAdjust="spacing">Neo-Tethyan oceanic crust</text>
<g transform="translate(1219.5,370) rotate(45)"><rect x="0" y="-35" width="291" height="35" fill="#fff"/><text x="0.5" y="-4.3" font-family="'Liberation Serif', serif" font-size="35.3" fill="#231f1f" text-anchor="start" textLength="289.0" lengthAdjust="spacing">Lithospheric mantle</text></g>
<rect x="995.8" y="83" width="1000.2" height="724.2" fill="none" stroke="#231f1f" stroke-width="2.1"/>
<text x="983" y="32" font-family="'Liberation Sans', sans-serif" font-size="33.5" letter-spacing="0.5" fill="#000">(b)</text>
</g>
</svg>
</body>
</html>
